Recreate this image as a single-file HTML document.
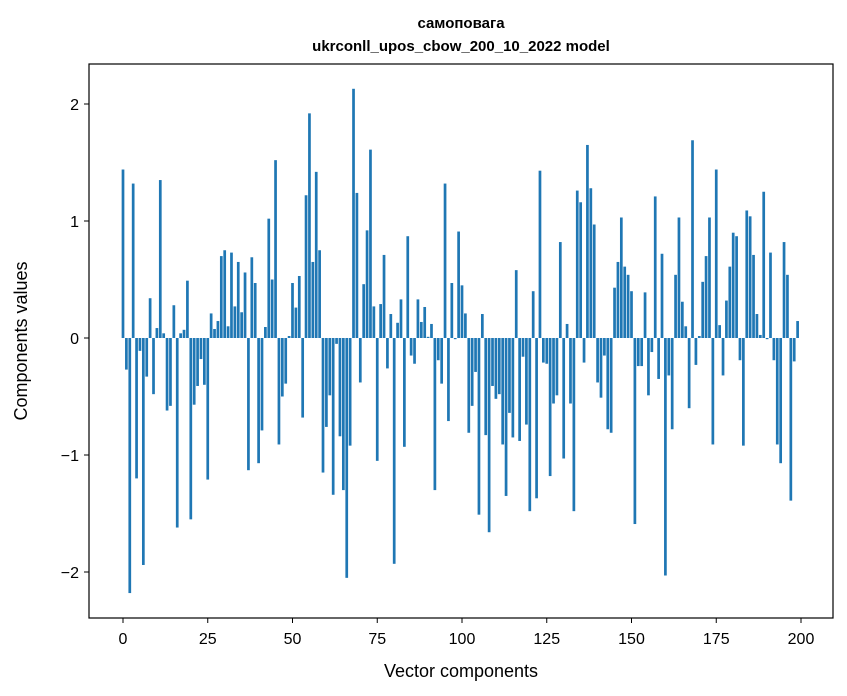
<!DOCTYPE html>
<html><head><meta charset="utf-8"><style>
body{margin:0;background:#fff}
svg{display:block;font-family:"Liberation Sans","DejaVu Sans",sans-serif}
</style></head><body>
<svg id="chart" width="847" height="696">
<text x="461" y="28" text-anchor="middle" font-size="15" font-weight="bold">самоповага</text>
<text x="461" y="51" text-anchor="middle" font-size="15" font-weight="bold">ukrconll_upos_cbow_200_10_2022 model</text>
<g id="bars"></g>
<rect x="89" y="64" width="744" height="554" fill="none" stroke="#000" stroke-width="1.2"/>
<g id="xticks"></g>
<g id="yticks"></g>
<text x="461" y="677" text-anchor="middle" font-size="18">Vector components</text>
<text transform="translate(27,341) rotate(-90)" text-anchor="middle" font-size="18">Components values</text>
</svg>
<script>
const values = [1.44,-0.27,-2.18,1.32,-1.20,-0.11,-1.94,-0.33,0.34,-0.48,0.085,1.35,0.04,-0.62,-0.58,0.28,-1.62,0.04,0.07,0.49,
-1.55,-0.57,-0.41,-0.18,-0.40,-1.21,0.21,0.077,0.145,0.70,0.75,0.10,0.73,0.27,0.65,0.22,0.56,-1.13,0.69,0.47,
-1.07,-0.79,0.094,1.02,0.50,1.52,-0.91,-0.50,-0.39,0.017,0.47,0.26,0.53,-0.68,1.22,1.92,0.65,1.42,0.75,-1.15,
-0.76,-0.49,-1.34,-0.05,-0.84,-1.30,-2.05,-0.92,2.13,1.24,-0.38,0.46,0.92,1.61,0.27,-1.05,0.29,0.71,-0.26,0.205,
-1.93,0.13,0.33,-0.93,0.87,-0.15,-0.22,0.33,0.137,0.265,0.01,0.12,-1.30,-0.19,-0.39,1.32,-0.71,0.47,-0.01,0.91,
0.45,0.21,-0.81,-0.58,-0.29,-1.51,0.205,-0.83,-1.66,-0.41,-0.52,-0.48,-0.91,-1.35,-0.64,-0.85,0.58,-0.88,-0.16,-0.74,
-1.48,0.40,-1.37,1.43,-0.21,-0.22,-1.18,-0.56,-0.49,0.82,-1.03,0.12,-0.56,-1.48,1.26,1.16,-0.21,1.65,1.28,0.97,
-0.38,-0.51,-0.15,-0.78,-0.81,0.43,0.65,1.03,0.61,0.54,0.40,-1.59,-0.24,-0.24,0.39,-0.49,-0.12,1.21,-0.35,0.72,
-2.03,-0.32,-0.78,0.54,1.03,0.31,0.10,-0.60,1.69,-0.23,0.017,0.48,0.70,1.03,-0.91,1.44,0.11,-0.32,0.32,0.61,
0.90,0.87,-0.19,-0.92,1.09,1.04,0.71,0.205,0.026,1.25,-0.01,0.73,-0.19,-0.91,-1.07,0.82,0.54,-1.39,-0.20,0.145];
const xTicks = [0,25,50,75,100,125,150,175,200];
const yTicks = [-2,-1,0,1,2];
const xTickLabels = ["0","25","50","75","100","125","150","175","200"];
const yTickLabels = ["\u22122","\u22121","0","1","2"];
const NS="http://www.w3.org/2000/svg";
const xs = v => 123 + 3.39*v;
const ys = v => 338 - 117*v;
const bw = 3.39*0.8;
const gb = document.getElementById('bars');
values.forEach((v,i)=>{
  const r=document.createElementNS(NS,'rect');
  
  
  const y0=ys(0), y1=ys(v);
  r.setAttribute('x',xs(i)-bw/2);
  r.setAttribute('y',Math.min(y0,y1));
  r.setAttribute('width',bw);
  r.setAttribute('height',Math.max(0.5,Math.abs(y1-y0)));
  r.setAttribute('fill','#1f77b4');
  gb.appendChild(r);
});
const gx=document.getElementById('xticks');
xTicks.forEach((t,i)=>{
  const l=document.createElementNS(NS,'line');
  
  
  l.setAttribute('x1',xs(t));l.setAttribute('x2',xs(t));
  l.setAttribute('y1',618);l.setAttribute('y2',623);
  l.setAttribute('stroke','#000');
  gx.appendChild(l);
  const tx=document.createElementNS(NS,'text');
  
  
  tx.setAttribute('x',xs(t));tx.setAttribute('y',644);
  tx.setAttribute('text-anchor','middle');tx.setAttribute('font-size','16');
  tx.textContent=xTickLabels[i];
  gx.appendChild(tx);
});
const gy=document.getElementById('yticks');
yTicks.forEach((t,i)=>{
  const l=document.createElementNS(NS,'line');
  
  
  l.setAttribute('x1',84);l.setAttribute('x2',89);
  l.setAttribute('y1',ys(t));l.setAttribute('y2',ys(t));
  l.setAttribute('stroke','#000');
  gy.appendChild(l);
  const tx=document.createElementNS(NS,'text');
  
  
  tx.setAttribute('x',79);tx.setAttribute('y',ys(t)+6);
  tx.setAttribute('text-anchor','end');tx.setAttribute('font-size','16');
  tx.textContent=yTickLabels[i];
  gy.appendChild(tx);
});
</script>
</body></html>
